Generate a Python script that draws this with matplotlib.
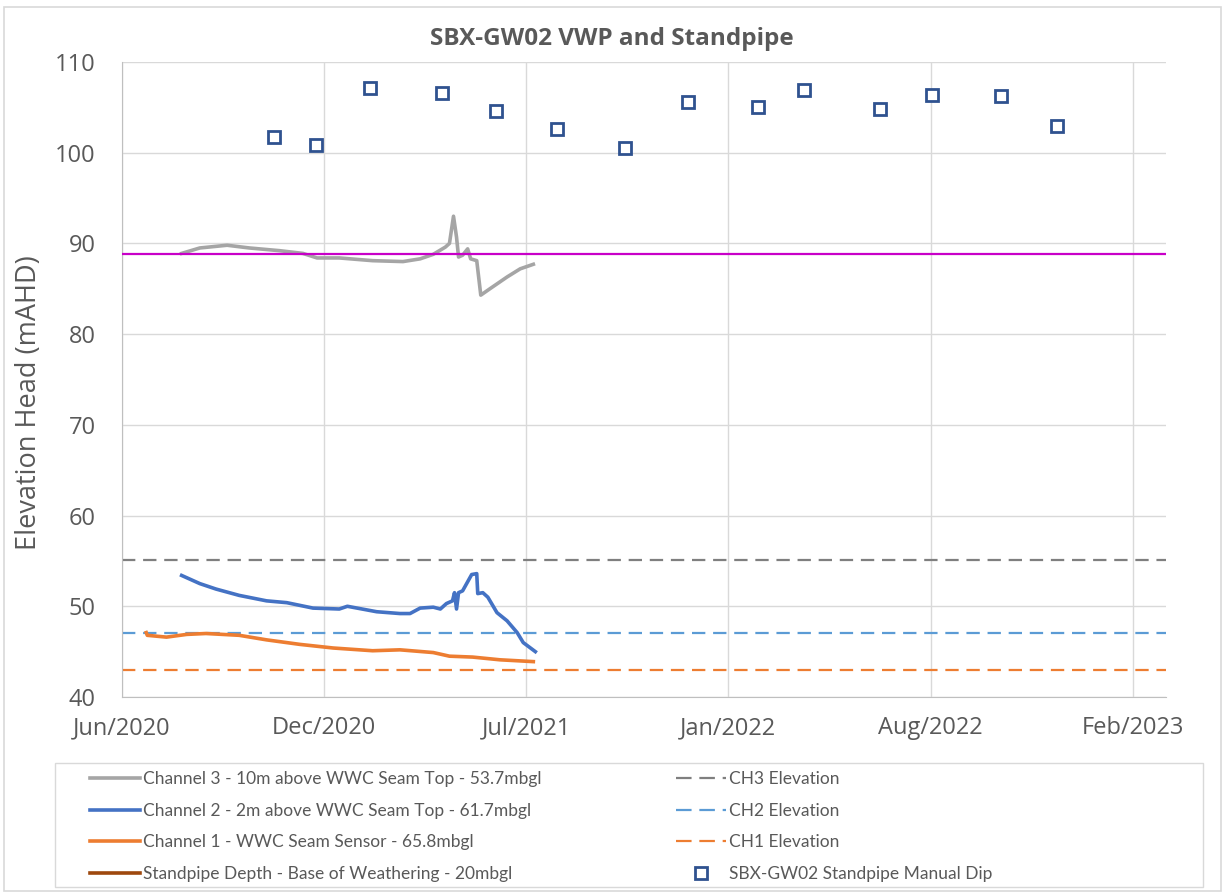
import matplotlib
matplotlib.use('Agg')
import matplotlib.pyplot as plt
import matplotlib.dates as mdates
from matplotlib.patches import Rectangle
from matplotlib.lines import Line2D
import pandas as pd

plt.rcParams['font.family'] = ['Open Sans', 'DejaVu Sans']

# VWP channel 3 - 10m above WWC seam top
ch3_dates = ['2020-07-30', '2020-08-17', '2020-09-13', '2020-10-05', '2020-11-04',
             '2020-11-27', '2020-12-11', '2021-01-02', '2021-02-04', '2021-03-06',
             '2021-03-23', '2021-04-05', '2021-04-17', '2021-04-21', '2021-04-25',
             '2021-04-28', '2021-04-30', '2021-05-04', '2021-05-09', '2021-05-12',
             '2021-05-18', '2021-05-22', '2021-05-31', '2021-06-17', '2021-06-30',
             '2021-07-13']
ch3_head = [88.9, 89.5, 89.8, 89.5, 89.2,
            88.9, 88.4, 88.4, 88.1, 88.0,
            88.3, 88.8, 89.6, 90.0, 93.0,
            90.7, 88.5, 88.7, 89.4, 88.3,
            88.1, 84.3, 85.0, 86.3, 87.2,
            87.7]

# VWP channel 2 - 2m above WWC seam top
ch2_dates = ['2020-07-30', '2020-08-17', '2020-09-02', '2020-09-25', '2020-10-22',
             '2020-11-11', '2020-12-07', '2021-01-02', '2021-01-10', '2021-02-08',
             '2021-03-03', '2021-03-13', '2021-03-23', '2021-04-05', '2021-04-12',
             '2021-04-18', '2021-04-24', '2021-04-26', '2021-04-28', '2021-04-30',
             '2021-05-04', '2021-05-08', '2021-05-13', '2021-05-18', '2021-05-19',
             '2021-05-24', '2021-05-29', '2021-06-07', '2021-06-17', '2021-06-27',
             '2021-07-03', '2021-07-15']
ch2_head = [53.4, 52.5, 51.9, 51.2, 50.6,
            50.4, 49.8, 49.7, 50.0, 49.4,
            49.2, 49.2, 49.8, 49.9, 49.7,
            50.3, 50.6, 51.5, 49.7, 51.5,
            51.7, 52.5, 53.5, 53.6, 51.4,
            51.5, 51.0, 49.3, 48.4, 47.1,
            46.0, 45.0]

# VWP channel 1 - WWC seam sensor
ch1_dates = ['2020-06-25', '2020-06-26', '2020-07-15', '2020-08-04', '2020-08-23',
             '2020-09-25', '2020-10-22', '2020-11-24', '2020-12-27', '2021-02-04',
             '2021-03-03', '2021-04-05', '2021-04-21', '2021-05-14', '2021-06-10',
             '2021-07-13']
ch1_head = [47.1, 46.8, 46.6, 46.9, 47.0,
            46.8, 46.3, 45.8, 45.4, 45.1,
            45.2, 44.9, 44.5, 44.4, 44.1,
            43.9]

# standpipe manual dips
dip_dates = ['2020-10-29', '2020-12-10', '2021-02-01', '2021-04-14', '2021-06-06',
             '2021-08-05', '2021-10-12', '2021-12-13', '2022-02-20', '2022-04-07',
             '2022-06-21', '2022-08-11', '2022-10-19', '2022-12-13']
dip_head = [101.7, 100.8, 107.1, 106.6, 104.6,
            102.6, 100.5, 105.6, 105.0, 106.9,
            104.8, 106.4, 106.2, 103.0]

# sensor / standpipe elevations (mAHD)
ch3_elev = 55.1
ch2_elev = 47.1
ch1_elev = 43.0
standpipe_base = 88.8

labels = ['Channel 3 - 10m above WWC Seam Top - 53.7mbgl',
          'Channel 2 - 2m above WWC Seam Top - 61.7mbgl',
          'Channel 1 - WWC Seam Sensor - 65.8mbgl',
          'Standpipe Depth - Base of Weathering - 20mbgl',
          'CH3 Elevation', 'CH2 Elevation', 'CH1 Elevation',
          'SBX-GW02 Standpipe Manual Dip']

W, H = 1225, 892
fig = plt.figure(figsize=(W / 100, H / 100), dpi=100)
ax = fig.add_axes([122 / W, 1 - 697 / H, (1166 - 122) / W, (697 - 62) / H])

txt = '#595959'
grid = '#d9d9d9'

dash = (6, 3.5)
ax.axhline(ch3_elev, color='#7f7f7f', lw=1.6, dashes=dash, zorder=2)
ax.axhline(ch2_elev, color='#5b9bd5', lw=1.6, dashes=dash, zorder=2)
ax.axhline(ch1_elev, color='#ed7d31', lw=1.6, dashes=dash, zorder=2)

ax.plot(pd.to_datetime(ch3_dates), ch3_head, color='#a5a5a5', lw=2.6, zorder=3)
ax.plot(pd.to_datetime(ch2_dates), ch2_head, color='#4472c4', lw=2.6, zorder=3)
ax.plot(pd.to_datetime(ch1_dates), ch1_head, color='#ed7d31', lw=2.6, zorder=3)
ax.axhline(standpipe_base, color='#c800c8', lw=1.6, zorder=4)

ax.plot(pd.to_datetime(dip_dates), dip_head, ls='none', marker='s', ms=9,
        mfc='white', mec='#2f528f', mew=2, zorder=5)

# axes, grid and ticks
ax.set_xlim(pd.Timestamp('2020-06-01'), pd.Timestamp('2023-03-31'))
ax.set_ylim(40, 110)
ax.set_yticks(range(40, 111, 10))
ax.set_xticks(pd.date_range('2020-06-01', periods=6, freq='200D'))
ax.xaxis.set_major_formatter(mdates.DateFormatter('%b/%Y'))
ax.grid(True, color=grid, lw=1)
ax.set_axisbelow(True)
for s in ['top', 'right']:
    ax.spines[s].set_visible(False)
for s in ['left', 'bottom']:
    ax.spines[s].set_color('#bfbfbf')
ax.tick_params(axis='both', length=0, colors=txt, labelsize=17)
ax.tick_params(axis='y', pad=19)
ax.tick_params(axis='x', pad=14)

ax.set_ylabel('Elevation Head (mAHD)', color=txt, fontsize=19.5)
ax.yaxis.set_label_coords(-0.0757, 0.463)
fig.text(612 / W, 1 - 39 / H, 'SBX-GW02 VWP and Standpipe', ha='center', va='center',
         color=txt, fontsize=17.5, fontweight='bold')

# legend
ldash = (7, 3.5)
handles = [Line2D([], [], color='#a5a5a5', lw=2.6),
           Line2D([], [], color='#4472c4', lw=2.6),
           Line2D([], [], color='#ed7d31', lw=2.6),
           Line2D([], [], color='#9e480e', lw=2.6),
           Line2D([], [], color='#7f7f7f', lw=1.6, dashes=ldash),
           Line2D([], [], color='#5b9bd5', lw=1.6, dashes=ldash),
           Line2D([], [], color='#ed7d31', lw=1.6, dashes=ldash),
           Line2D([], [], ls='none', marker='s', ms=9, mfc='white', mec='#2f528f', mew=2)]
leg = fig.legend(handles, labels, ncol=2, loc='upper left',
                 bbox_to_anchor=(90 / W, 1 - 771 / H), frameon=False,
                 prop={'family': ['Lato', 'Open Sans'], 'size': 12.5},
                 handlelength=2.9, handletextpad=0.15, labelspacing=0.9,
                 columnspacing=7.75, borderpad=0, borderaxespad=0)
for t in leg.get_texts():
    t.set_color(txt)

fig.patches.append(Rectangle((55 / W, 1 - 887 / H), (1203 - 55) / W, (887 - 763) / H,
                             transform=fig.transFigure, fill=False, ec=grid, lw=1))
fig.patches.append(Rectangle((4 / W, 1 / H), (1221 - 4) / W, (891 - 7) / H,
                             transform=fig.transFigure, fill=False, ec=grid, lw=1.2))

fig.savefig('out.png', dpi=100)
